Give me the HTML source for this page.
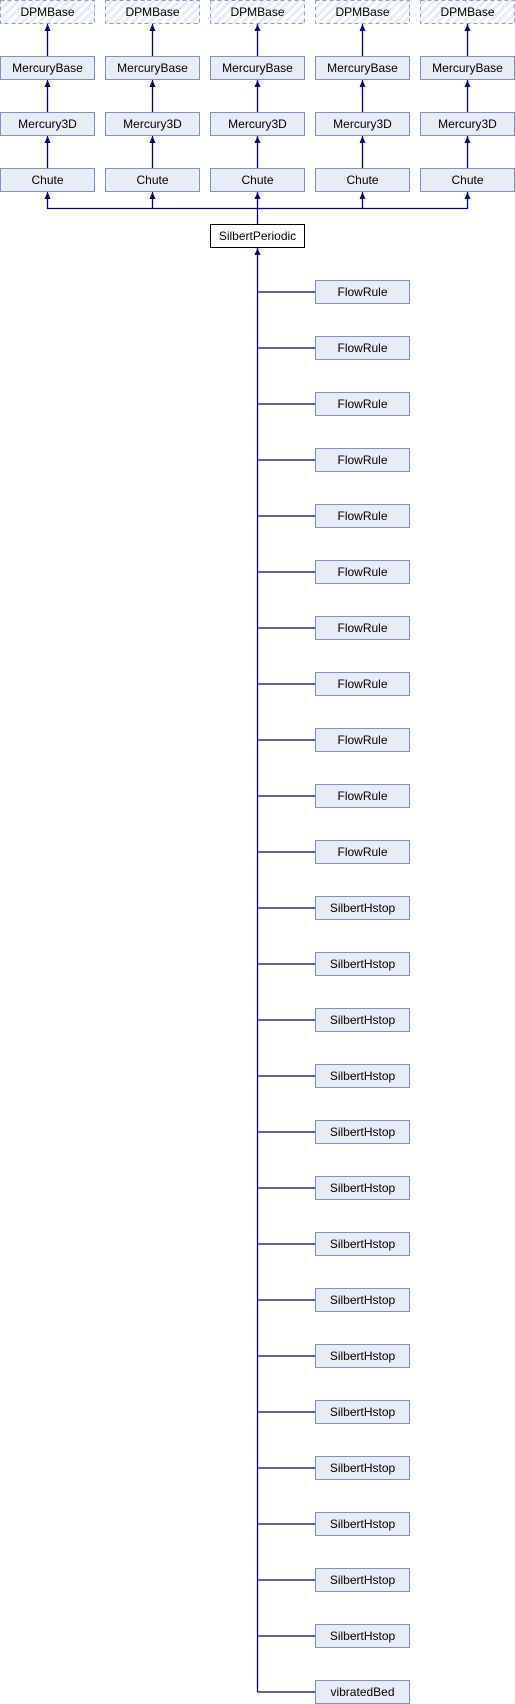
<!DOCTYPE html>
<html><head><meta charset="utf-8"><style>html,body{margin:0;padding:0;background:#fff}svg{display:block}text{font-family:"Liberation Sans",Arial,sans-serif;font-size:12px;fill:#000;text-anchor:middle}</style></head><body>
<svg width="515" height="1704" viewBox="0 0 515 1704" xmlns="http://www.w3.org/2000/svg">
<defs>
<pattern id="h" width="6" height="6" patternUnits="userSpaceOnUse" patternTransform="rotate(45)"><rect width="6" height="6" fill="#fff"/><rect width="3" height="6" fill="#e8ecf5"/></pattern>
<g id="ar"><path d="M0,0 L-3,7 L3,7 Z" fill="#000080"/></g>
</defs>
<g stroke="#000080" stroke-width="1.3" fill="none">
<path d="M47.5,24V56 M47.5,80V112 M47.5,136V168 M152.5,24V56 M152.5,80V112 M152.5,136V168 M257.5,24V56 M257.5,80V112 M257.5,136V168 M362.5,24V56 M362.5,80V112 M362.5,136V168 M467.5,24V56 M467.5,80V112 M467.5,136V168"/>
<path d="M47.5,192V208.5H467.5V192 M152.5,192V208.5 M362.5,192V208.5 M257.5,192V224"/>
<path d="M257.5,248V1692"/>
<path d="M257.5,292H315 M257.5,348H315 M257.5,404H315 M257.5,460H315 M257.5,516H315 M257.5,572H315 M257.5,628H315 M257.5,684H315 M257.5,740H315 M257.5,796H315 M257.5,852H315 M257.5,908H315 M257.5,964H315 M257.5,1020H315 M257.5,1076H315 M257.5,1132H315 M257.5,1188H315 M257.5,1244H315 M257.5,1300H315 M257.5,1356H315 M257.5,1412H315 M257.5,1468H315 M257.5,1524H315 M257.5,1580H315 M257.5,1636H315 M257.5,1692H315"/>
</g>
<g>
<use href="#ar" x="47.5" y="24"/><use href="#ar" x="47.5" y="80"/><use href="#ar" x="47.5" y="136"/><use href="#ar" x="47.5" y="192"/>
<use href="#ar" x="152.5" y="24"/><use href="#ar" x="152.5" y="80"/><use href="#ar" x="152.5" y="136"/><use href="#ar" x="152.5" y="192"/>
<use href="#ar" x="257.5" y="24"/><use href="#ar" x="257.5" y="80"/><use href="#ar" x="257.5" y="136"/><use href="#ar" x="257.5" y="192"/>
<use href="#ar" x="362.5" y="24"/><use href="#ar" x="362.5" y="80"/><use href="#ar" x="362.5" y="136"/><use href="#ar" x="362.5" y="192"/>
<use href="#ar" x="467.5" y="24"/><use href="#ar" x="467.5" y="80"/><use href="#ar" x="467.5" y="136"/><use href="#ar" x="467.5" y="192"/>
<use href="#ar" x="257.5" y="248"/>
</g>
<g stroke="#8aa0d0" stroke-width="1" stroke-dasharray="4,3" fill="url(#h)">
<rect x="0.5" y="0.5" width="94" height="23"/><rect x="105.5" y="0.5" width="94" height="23"/><rect x="210.5" y="0.5" width="94" height="23"/><rect x="315.5" y="0.5" width="94" height="23"/><rect x="420.5" y="0.5" width="94" height="23"/>
</g>
<g stroke="#7b93c8" stroke-width="1" fill="#e8ecf5">
<rect x="0.5" y="56.5" width="94" height="23"/><rect x="105.5" y="56.5" width="94" height="23"/><rect x="210.5" y="56.5" width="94" height="23"/><rect x="315.5" y="56.5" width="94" height="23"/><rect x="420.5" y="56.5" width="94" height="23"/>
<rect x="0.5" y="112.5" width="94" height="23"/><rect x="105.5" y="112.5" width="94" height="23"/><rect x="210.5" y="112.5" width="94" height="23"/><rect x="315.5" y="112.5" width="94" height="23"/><rect x="420.5" y="112.5" width="94" height="23"/>
<rect x="0.5" y="168.5" width="94" height="23"/><rect x="105.5" y="168.5" width="94" height="23"/><rect x="210.5" y="168.5" width="94" height="23"/><rect x="315.5" y="168.5" width="94" height="23"/><rect x="420.5" y="168.5" width="94" height="23"/>
<rect x="315.5" y="280.5" width="94" height="23"/><rect x="315.5" y="336.5" width="94" height="23"/><rect x="315.5" y="392.5" width="94" height="23"/><rect x="315.5" y="448.5" width="94" height="23"/><rect x="315.5" y="504.5" width="94" height="23"/><rect x="315.5" y="560.5" width="94" height="23"/><rect x="315.5" y="616.5" width="94" height="23"/><rect x="315.5" y="672.5" width="94" height="23"/><rect x="315.5" y="728.5" width="94" height="23"/><rect x="315.5" y="784.5" width="94" height="23"/><rect x="315.5" y="840.5" width="94" height="23"/><rect x="315.5" y="896.5" width="94" height="23"/><rect x="315.5" y="952.5" width="94" height="23"/><rect x="315.5" y="1008.5" width="94" height="23"/><rect x="315.5" y="1064.5" width="94" height="23"/><rect x="315.5" y="1120.5" width="94" height="23"/><rect x="315.5" y="1176.5" width="94" height="23"/><rect x="315.5" y="1232.5" width="94" height="23"/><rect x="315.5" y="1288.5" width="94" height="23"/><rect x="315.5" y="1344.5" width="94" height="23"/><rect x="315.5" y="1400.5" width="94" height="23"/><rect x="315.5" y="1456.5" width="94" height="23"/><rect x="315.5" y="1512.5" width="94" height="23"/><rect x="315.5" y="1568.5" width="94" height="23"/><rect x="315.5" y="1624.5" width="94" height="23"/><rect x="315.5" y="1680.5" width="94" height="23"/>
</g>
<rect x="210.5" y="224.5" width="94" height="23" fill="#fff" stroke="#000" stroke-width="1"/>
<g>
<text x="47.5" y="16">DPMBase</text><text x="152.5" y="16">DPMBase</text><text x="257.5" y="16">DPMBase</text><text x="362.5" y="16">DPMBase</text><text x="467.5" y="16">DPMBase</text>
<text x="47.5" y="72">MercuryBase</text><text x="152.5" y="72">MercuryBase</text><text x="257.5" y="72">MercuryBase</text><text x="362.5" y="72">MercuryBase</text><text x="467.5" y="72">MercuryBase</text>
<text x="47.5" y="128">Mercury3D</text><text x="152.5" y="128">Mercury3D</text><text x="257.5" y="128">Mercury3D</text><text x="362.5" y="128">Mercury3D</text><text x="467.5" y="128">Mercury3D</text>
<text x="47.5" y="184">Chute</text><text x="152.5" y="184">Chute</text><text x="257.5" y="184">Chute</text><text x="362.5" y="184">Chute</text><text x="467.5" y="184">Chute</text>
<text x="257.5" y="240">SilbertPeriodic</text>
<text x="362.5" y="296">FlowRule</text><text x="362.5" y="352">FlowRule</text><text x="362.5" y="408">FlowRule</text><text x="362.5" y="464">FlowRule</text><text x="362.5" y="520">FlowRule</text><text x="362.5" y="576">FlowRule</text><text x="362.5" y="632">FlowRule</text><text x="362.5" y="688">FlowRule</text><text x="362.5" y="744">FlowRule</text><text x="362.5" y="800">FlowRule</text><text x="362.5" y="856">FlowRule</text>
<text x="362.5" y="912">SilbertHstop</text><text x="362.5" y="968">SilbertHstop</text><text x="362.5" y="1024">SilbertHstop</text><text x="362.5" y="1080">SilbertHstop</text><text x="362.5" y="1136">SilbertHstop</text><text x="362.5" y="1192">SilbertHstop</text><text x="362.5" y="1248">SilbertHstop</text><text x="362.5" y="1304">SilbertHstop</text><text x="362.5" y="1360">SilbertHstop</text><text x="362.5" y="1416">SilbertHstop</text><text x="362.5" y="1472">SilbertHstop</text><text x="362.5" y="1528">SilbertHstop</text><text x="362.5" y="1584">SilbertHstop</text><text x="362.5" y="1640">SilbertHstop</text>
<text x="362.5" y="1696">vibratedBed</text>
</g>
</svg>
</body></html>
